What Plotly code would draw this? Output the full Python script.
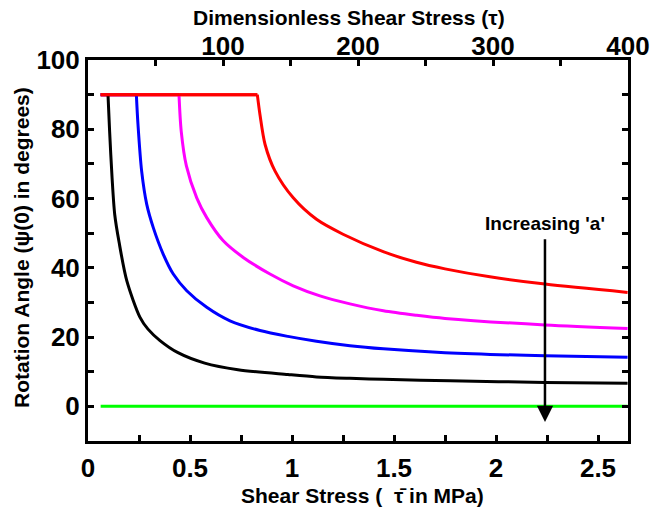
import plotly.graph_objects as go

# ---- data ----
black_x = [0.062, 0.098, 0.106, 0.118, 0.131, 0.152, 0.19, 0.255, 0.294, 0.353, 0.441, 0.572, 0.735, 0.98, 1.12, 1.284, 1.448, 1.775, 2.24, 2.645]
black_y = [90, 90, 79.4, 66, 55.4, 47.5, 36.3, 25.7, 22.3, 19.0, 15.5, 12.5, 10.6, 9.2, 8.5, 8.1, 7.8, 7.4, 6.9, 6.7]

blue_x = [0.062, 0.237, 0.245, 0.263, 0.288, 0.32, 0.369, 0.418, 0.484, 0.582, 0.696, 0.843, 0.98, 1.12, 1.284, 1.448, 1.75, 2.24, 2.645]
blue_y = [90, 90, 81.4, 67.9, 58.3, 51.6, 43.9, 38.2, 33.4, 28.6, 24.7, 21.9, 20.2, 18.8, 17.5, 16.6, 15.5, 14.6, 14.2]

magenta_x = [0.062, 0.446, 0.457, 0.482, 0.533, 0.582, 0.663, 0.761, 0.892, 1.006, 1.137, 1.284, 1.448, 1.611, 1.75, 2.24, 2.645]
magenta_y = [90, 90, 79.4, 69.5, 60.2, 54.5, 47.8, 43, 38.2, 34.8, 31.9, 29.6, 27.6, 26.3, 25.4, 23.5, 22.5]

red_x = [0.062, 0.83, 0.843, 0.868, 0.917, 1.006, 1.12, 1.25, 1.45, 1.61, 1.75, 1.97, 2.24, 2.645]
red_y = [90, 90, 84.2, 75.6, 67.9, 60.2, 54.0, 49.7, 44.6, 41.6, 39.7, 37.4, 35.3, 32.9]

green_x = [0.062, 2.645]
green_y = [0, 0]

x_range = [0, 2.647]
tau_range = [0, 400]
y_range = [-10, 100]

bottom_ticks = [0, 0.25, 0.5, 0.75, 1, 1.25, 1.5, 1.75, 2, 2.25, 2.5]
bottom_text = ["0", "", "0.5", "", "1", "", "1.5", "", "2", "", "2.5"]
top_ticks = [50, 100, 150, 200, 250, 300, 350, 400]
top_text = ["", "100", "", "200", "", "300", "", "400"]
left_ticks = [0, 10, 20, 30, 40, 50, 60, 70, 80, 90, 100]
left_text = ["0", "", "20", "", "40", "", "60", "", "80", "", "100"]

arrow_x = 2.24
arrow_top = 48.7
arrow_tip = -4.5

FONT = "Liberation Sans, Arial, sans-serif"

fig = go.Figure()
series = [(black_x, black_y, "black"), (blue_x, blue_y, "#0000ff"),
          (magenta_x, magenta_y, "#ff00ff"), (red_x, red_y, "#ff0000")]
for xs, ys, col in series:
    # flat saturated part (straight)
    fig.add_trace(go.Scatter(x=xs[:2], y=ys[:2], mode="lines", line=dict(color=col, width=3),
                             showlegend=False, hoverinfo="skip"))
for xs, ys, col in series:
    # decaying part (smooth)
    fig.add_trace(go.Scatter(x=xs[1:], y=ys[1:], mode="lines",
                             line=dict(color=col, width=3, shape="spline", smoothing=0.8),
                             showlegend=False, hoverinfo="skip"))
# red flat segment on top of the others
fig.add_trace(go.Scatter(x=red_x[:2], y=red_y[:2], mode="lines", line=dict(color="#ff0000", width=3),
                         showlegend=False, hoverinfo="skip"))
fig.add_trace(go.Scatter(x=green_x, y=green_y, mode="lines", line=dict(color="#00ff00", width=3),
                         showlegend=False, hoverinfo="skip"))

# dummy trace for the top (dimensionless) axis
fig.add_trace(go.Scatter(x=tau_range, y=[None, None], xaxis="x2", yaxis="y",
                         mode="lines", showlegend=False, hoverinfo="skip"))

tickfont = dict(family=FONT, size=26, color="black", weight="bold")
common = dict(showgrid=False, zeroline=False, showline=True, linecolor="black", linewidth=3,
              ticks="inside", ticklen=6, tickwidth=2.5, tickcolor="black", tickfont=tickfont,
              automargin=False)

fig.update_layout(
    width=650, height=510, margin=dict(l=88, r=22, t=60, b=69),
    paper_bgcolor="white", plot_bgcolor="white",
    xaxis=dict(range=x_range, tickmode="array", tickvals=bottom_ticks, ticktext=bottom_text,
               ticklabelstandoff=2, **common),
    xaxis2=dict(range=tau_range, overlaying="x", side="top", anchor="y", tickmode="array",
                tickvals=top_ticks, ticktext=top_text, ticklabelstandoff=-8, **common),
    yaxis=dict(range=y_range, tickmode="array", tickvals=left_ticks, ticktext=left_text,
               mirror="ticks", ticklabelstandoff=0, **common),
)

titlefont = dict(family=FONT, size=21, color="black", weight="bold")
fig.add_annotation(text="Dimensionless Shear Stress (τ)", xref="paper", yref="paper",
                   x=0.483, y=1.112, showarrow=False, font=titlefont, xanchor="center", yanchor="middle")
fig.add_annotation(text="Shear Stress (  τ\u0304 in MPa)", xref="paper", yref="paper",
                   x=0.509, y=-0.142, showarrow=False, font=titlefont, xanchor="center", yanchor="middle")
fig.add_annotation(text="Rotation Angle (ψ(0) in degrees)", xref="paper", yref="paper",
                   x=-0.122, y=0.507, showarrow=False, font=titlefont, textangle=-90,
                   xanchor="center", yanchor="middle")

fig.add_annotation(x=arrow_x, y=arrow_tip, ax=arrow_x, ay=arrow_top, xref="x", yref="y",
                   axref="x", ayref="y", text="", showarrow=True, arrowhead=2, arrowsize=1.3,
                   arrowwidth=2.5, arrowcolor="black")
fig.add_annotation(text="Increasing 'a'", x=arrow_x, y=arrow_top, xref="x", yref="y",
                   showarrow=False, yanchor="bottom", yshift=2,
                   font=dict(family=FONT, size=19, color="black", weight="bold"))

fig.write_html("out.html")
